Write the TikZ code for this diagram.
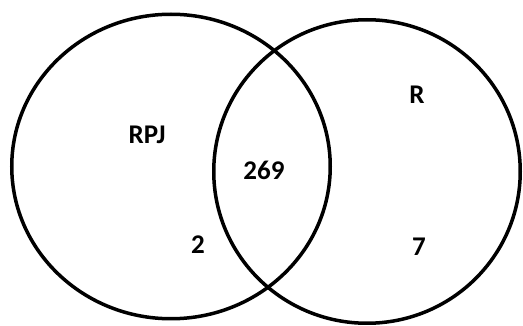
\documentclass[tikz,border=0pt]{standalone}
\usepackage{fontspec}
\setmainfont{Carlito}
\usetikzlibrary{shapes.geometric}

\begin{document}
\begin{tikzpicture}[x=1pt, y=-1pt,
        setnode/.style={ellipse, draw=black, line width=3.5pt, inner sep=0pt},
        labelnode/.style={text=black, font=\fontsize{27}{30}\selectfont\bfseries, inner sep=0pt},
]
        \useasboundingbox (0,0) rectangle (523,326);
        \node[setnode, minimum width=318.5pt, minimum height=304.5pt] (rpjset) at (171,166.5) {};
        \node[setnode, minimum width=306.5pt, minimum height=303.5pt] (rset) at (367,171.5) {};

        \node[labelnode] (rpj) at (147,135) {RPJ};
        \node[labelnode] (r) at (417,95) {R};
        \node[labelnode] (both) at (264,170) {269};
        \node[labelnode] (onlyrpj) at (198,245) {2};
        \node[labelnode] (onlyr) at (419,247) {7};
\end{tikzpicture}
\end{document}
